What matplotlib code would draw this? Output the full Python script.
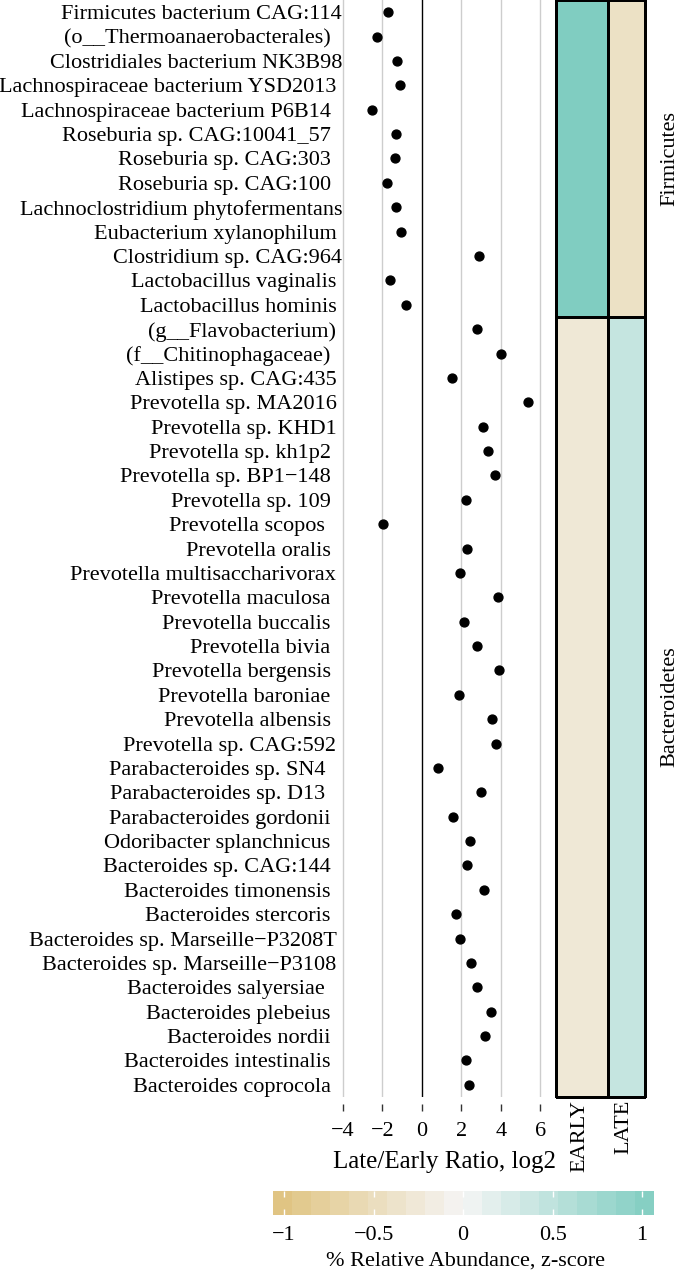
import numpy as np
import matplotlib.pyplot as plt
from matplotlib.colors import LinearSegmentedColormap

plt.rcParams['font.family'] = ['Liberation Serif', 'DejaVu Serif']
plt.rcParams['font.size'] = 16

# taxa (trailing spaces kept as in the original labels)
firm_taxa = ['Firmicutes bacterium CAG:114', '(o__Thermoanaerobacterales)  ',
             'Clostridiales bacterium NK3B98', 'Lachnospiraceae bacterium YSD2013 ',
             'Lachnospiraceae bacterium P6B14  ', 'Roseburia sp. CAG:10041_57  ',
             'Roseburia sp. CAG:303  ', 'Roseburia sp. CAG:100  ',
             'Lachnoclostridium phytofermentans', 'Eubacterium xylanophilum ',
             'Clostridium sp. CAG:964', 'Lactobacillus vaginalis ',
             'Lactobacillus hominis ']
firm_ratio = [-1.71, -2.27, -1.27, -1.09, -2.53, -1.31, -1.38, -1.76, -1.31,
              -1.04, 2.89, -1.60, -0.82]

bact_taxa = ['(g__Flavobacterium) ', '(f__Chitinophagaceae)  ', 'Alistipes sp. CAG:435 ',
             'Prevotella sp. MA2016 ', 'Prevotella sp. KHD1 ', 'Prevotella sp. kh1p2  ',
             'Prevotella sp. BP1\u2212148  ', 'Prevotella sp. 109  ', 'Prevotella scopos   ',
             'Prevotella oralis  ', 'Prevotella multisaccharivorax ', 'Prevotella maculosa  ',
             'Prevotella buccalis  ', 'Prevotella bivia  ', 'Prevotella bergensis  ',
             'Prevotella baroniae  ', 'Prevotella albensis  ', 'Prevotella sp. CAG:592 ',
             'Parabacteroides sp. SN4   ', 'Parabacteroides sp. D13   ',
             'Parabacteroides gordonii  ', 'Odoribacter splanchnicus  ',
             'Bacteroides sp. CAG:144  ', 'Bacteroides timonensis  ', 'Bacteroides stercoris  ',
             'Bacteroides sp. Marseille\u2212P3208T ', 'Bacteroides sp. Marseille\u2212P3108 ',
             'Bacteroides salyersiae   ', 'Bacteroides plebeius  ', 'Bacteroides nordii  ',
             'Bacteroides intestinalis  ', 'Bacteroides coprocola  ']
bact_ratio = [2.80, 4.02, 1.51, 5.36, 3.11, 3.33, 3.69, 2.24, -1.96, 2.31, 1.93, 3.87,
              2.16, 2.82, 3.91, 1.89, 3.56, 3.76, 0.80, 3.00, 1.60, 2.44, 2.29, 3.16,
              1.73, 1.96, 2.51, 2.78, 3.49, 3.18, 2.22, 2.40]

groups = ['EARLY', 'LATE']
firm_z = [1.06, -0.42]
bact_z = [-0.27, 0.44]
z_lim = 1.065

x_ticks = [-4, -2, 0, 2, 4, 6]
cbar_ticks = [-1, -0.5, 0, 0.5, 1]

cmap = LinearSegmentedColormap.from_list('brbg', ['#dfc27d', '#f5f5f5', '#80cdc1'])

W, H = 684, 1275
fig = plt.figure(figsize=(W / 100, H / 100), dpi=100)


def box(x0, y0, x1, y1):
    # pixel box (from top-left) -> figure fraction rect
    return [x0 / W, 1 - y1 / H, (x1 - x0) / W, (y1 - y0) / H]


panels = [(firm_taxa, firm_ratio, firm_z, 'Firmicutes', 0, 317),
          (bact_taxa, bact_ratio, bact_z, 'Bacteroidetes', 317, 1097)]

for i, (taxa, ratio, z, phylum, y0, y1) in enumerate(panels):
    ax = fig.add_axes(box(342, y0, 551, y1))
    pos = np.arange(len(taxa))
    for g in x_ticks:
        ax.axvline(g, color='black' if g == 0 else '#cdcdcd', lw=1, zorder=0)
    ax.plot(ratio, pos, 'o', color='black', ms=6.4, zorder=3)
    ax.set_xlim(-4.05, 6.55)
    ax.set_ylim(len(taxa) - 0.5, -0.5)
    ax.set_yticks(pos)
    ax.set_yticklabels(taxa)
    ax.tick_params(axis='y', length=0, pad=0)
    for s in ax.spines.values():
        s.set_visible(False)
    if i == 1:
        ax.set_xticks(x_ticks)
        ax.set_xticklabels([str(t).replace('-', '\u2212') for t in x_ticks], fontsize=16.5)
        ax.spines['bottom'].set_position(('outward', 5))
        ax.tick_params(axis='x', length=5, width=1, color='#333333', pad=8)
    else:
        ax.set_xticks([])

    # heatmap strip
    hm = fig.add_axes(box(556, y0, 645, y1))
    hm.pcolormesh([0, 52, 89], [0, 1], np.array([z]), cmap=cmap, vmin=-z_lim, vmax=z_lim,
                  edgecolors='black', linewidth=1, clip_on=False)
    hm.set_xlim(0, 89)
    hm.set_ylim(0, 1)
    hm.axis('off')

    fig.text(670 / W, 1 - (y0 + y1) / 2 / H, phylum, rotation=90, ha='center', va='center')

fig.text(445 / W, 1 - 1162 / H, 'Late/Early Ratio, log2', ha='center', va='center', fontsize=18)
for g, xc in zip(groups, [580, 624]):
    fig.text(xc / W, 1 - 1100 / H, g, rotation=90, ha='center', va='top')

# colour bar (20 bins)
cax = fig.add_axes(box(272.5, 1191, 653.7, 1215))
edges = np.linspace(-z_lim, z_lim, 21)
centers = (edges[:-1] + edges[1:]) / 2
cax.pcolormesh(edges, [0, 1], centers[None, :], cmap=cmap, vmin=-z_lim, vmax=z_lim)
cax.set_xlim(-z_lim, z_lim)
cax.set_ylim(0, 1)
cax.set_yticks([])
cax.set_xticks(cbar_ticks)
cax.set_xticklabels([('%g' % t).replace('-', '\u2212') for t in cbar_ticks])
cax.tick_params(axis='x', direction='in', color='white', length=4, width=1,
                top=True, bottom=True, pad=8)
for s in cax.spines.values():
    s.set_visible(False)
fig.text(465 / W, 1 - 1261 / H, '% Relative Abundance, z-score', ha='center', va='center')

fig.savefig('out.png', dpi=100)
